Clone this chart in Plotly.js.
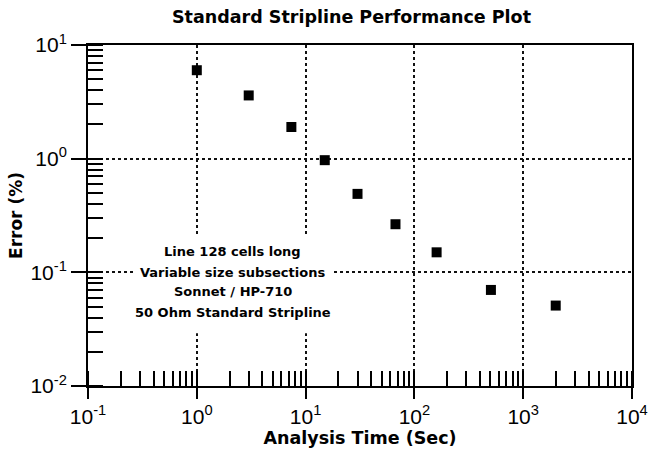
<!DOCTYPE html>
<html>
<head>
<meta charset="utf-8">
<script src="https://cdn.plot.ly/plotly-3.0.1.min.js"></script>
<style>body{margin:0;background:#fff}#chart{width:657px;height:453px}</style>
</head>
<body>
<div id="chart"></div>
<script>
// Data
const analysisTime = [1.0, 3.0, 7.4, 15, 30, 67, 160, 505, 1990];
const errorPct = [6.0, 3.6, 1.9, 0.97, 0.49, 0.265, 0.15, 0.07, 0.051];
const xTickVals = [0.1, 1, 10, 100, 1000, 10000];
const xTickText = ['10<sup>-1</sup>', '10<sup>0</sup>', '10<sup>1</sup>', '10<sup>2</sup>', '10<sup>3</sup>', '10<sup>4</sup>'];
const yTickVals = [0.01, 0.1, 1, 10];
const yTickText = ['10<sup>-2</sup>', '10<sup>-1</sup>', '10<sup>0</sup>', '10<sup>1</sup>'];
const noteLines = ["Line 128 cells long", "Variable size subsections", "Sonnet / HP-710", "50 Ohm Standard Stripline"];

const TFONT = "DejaVu Sans, Verdana, sans-serif";
const NFONT = "Liberation Sans, Arial, sans-serif";
const trace = {
  x: analysisTime, y: errorPct, type: 'scatter', mode: 'markers',
  marker: {symbol: 'square', size: 10, color: '#000'}, hoverinfo: 'x+y'
};

function axis(extra) {
  return Object.assign({
    type: 'log', tickmode: 'array',
    showline: true, linewidth: 2, linecolor: '#000', mirror: true,
    ticks: 'outside', tickwidth: 2, tickcolor: '#000',
    showgrid: true, gridcolor: '#111', gridwidth: 2, griddash: 'dot',
    zeroline: false,
    tickfont: {family: NFONT, size: 21, color: '#000'},
    minor: {dtick: 'D1', ticks: 'inside', ticklen: 15, tickwidth: 2, tickcolor: '#000', showgrid: false}
  }, extra);
}

const noteY = [0.393, 0.334, 0.276, 0.217];
const annotations = noteLines.map((t, i) => ({
  text: '<b>' + t + '</b>', xref: 'paper', yref: 'paper', x: 0.2665, y: noteY[i],
  xanchor: 'center', yanchor: 'middle', showarrow: false,
  font: {family: TFONT, size: 13, color: '#000'}
}));

const layout = {
  width: 657, height: 453,
  margin: {l: 88, r: 25, t: 45, b: 67},
  paper_bgcolor: '#fff', plot_bgcolor: '#fff',
  showlegend: false,
  title: {text: '<b>Standard Stripline Performance Plot</b>', x: 0.535, xanchor: 'center', y: 0.962, yanchor: 'middle',
          font: {family: TFONT, size: 17.5, color: '#000'}},
  xaxis: axis({
    range: [-1, 4], tickvals: xTickVals, ticktext: xTickText, ticklen: 11,
    title: {text: '<b>Analysis Time (Sec)</b>', standoff: 4, font: {family: TFONT, size: 17.5, color: '#000'}}
  }),
  yaxis: axis({
    range: [-2, 1], tickvals: yTickVals, ticktext: yTickText, ticklen: 15,
    title: {text: '<b>Error (%)</b>', standoff: 3, font: {family: TFONT, size: 17, color: '#000'}}
  }),
  shapes: [{type: 'rect', xref: 'paper', yref: 'paper', x0: 0.083, x1: 0.452, y0: 0.155, y1: 0.437,
            fillcolor: '#fff', line: {width: 0}, layer: 'above'}],
  annotations: annotations
};

Plotly.newPlot('chart', [trace], layout, {displayModeBar: false, staticPlot: true});
</script>
</body>
</html>
